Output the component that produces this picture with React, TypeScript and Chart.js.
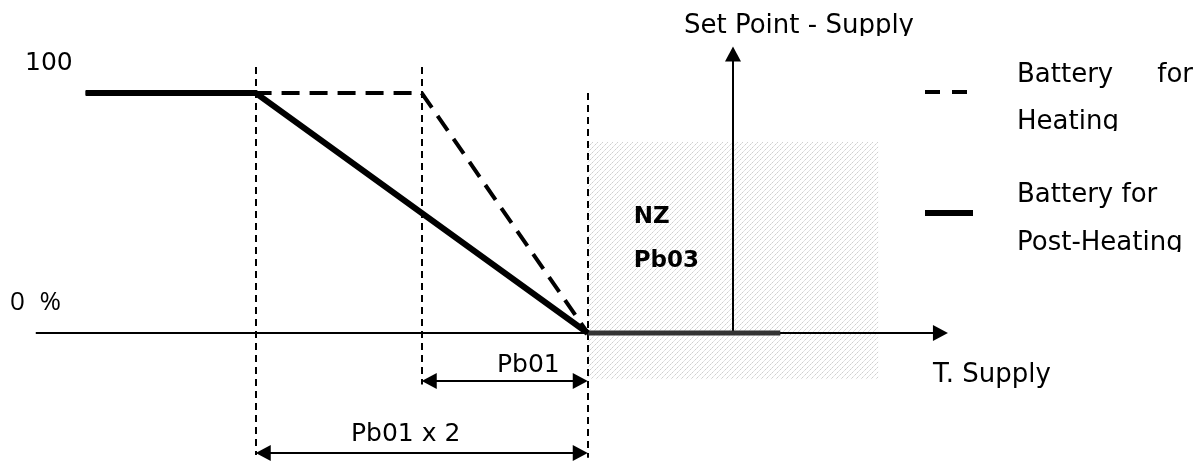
import React, { useEffect, useRef } from 'react';
import { Chart, registerables } from 'chart.js';

Chart.register(...registerables);

const W = 1204;
const H = 462;

// x: supply temperature relative to the set point (°C), y: output (%)
const heatingX = [-7.8, -3.75, -1.75];
const heatingY = [100, 100, 0];
const postHeatingX = [-7.8, -5.75, -1.75];
const postHeatingY = [100, 100, 0];
const zeroOutputX = [-1.75, 0.57];
const zeroOutputY = [0, 0];
const neutralZoneX = [-1.75, 1.75];
const neutralZoneY = [-19.2, 79.6];
const guideX = [-5.75, -3.75, -1.75];
const guideTopY = [110.8, 110.8, 100];
const guideBottomY = [-50.8, -21.5, -52];
const dimLabels = ['Pb01 x 2', 'Pb01'];
const dimFromX = [-5.75, -3.75];
const dimToX = [-1.75, -1.75];
const dimY = [-50, -20];
const yTickValues = [100, 0];
const yTickLabels = ['100', '0 %'];
const xAxisRange = [-8.4, 2.59];
const setPointX = 0;
const setPointTopY = 119.4;
const xRange = [-8.831, 5.675];
const yRange = [-53.75, 138.75];
const legendTitles = ['Battery for Heating', 'Battery for Post-Heating'];

const FONT = '"DejaVu Sans", Verdana, sans-serif';

function makeHatch(): CanvasPattern | string {
  const c = document.createElement('canvas');
  c.width = 5;
  c.height = 5;
  const g = c.getContext('2d');
  if (!g) return '#eee';
  g.fillStyle = '#fff';
  g.fillRect(0, 0, 5, 5);
  g.fillStyle = '#cfcfcf';
  // diagonal dotted hatch
  g.fillRect(0, 4, 1, 1);
  g.fillRect(2, 2, 1, 1);
  g.fillStyle = '#e2e2e2';
  g.fillRect(1, 3, 1, 1);
  g.fillRect(3, 1, 1, 1);
  g.fillRect(4, 0, 1, 1);
  const p = g.createPattern(c, 'repeat');
  return p || '#eee';
}

function arrowHead(ctx: CanvasRenderingContext2D, tx: number, ty: number, dx: number, dy: number, len = 15, half = 8) {
  const px = -dy, py = dx;
  ctx.beginPath();
  ctx.moveTo(tx, ty);
  ctx.lineTo(tx - dx * len + px * half, ty - dy * len + py * half);
  ctx.lineTo(tx - dx * len - px * half, ty - dy * len - py * half);
  ctx.closePath();
  ctx.fill();
}

function clippedText(ctx: CanvasRenderingContext2D, text: string, x: number, y: number, clipBottom: number) {
  ctx.save();
  ctx.beginPath();
  ctx.rect(0, 0, W, clipBottom);
  ctx.clip();
  ctx.fillText(text, x, y);
  ctx.restore();
}

export default function App() {
  const ref = useRef<HTMLCanvasElement | null>(null);

  useEffect(() => {
    const canvas = ref.current;
    if (!canvas) return;
    const hatch = makeHatch();

    const diagram = {
      id: 'diagram',
      beforeDatasetsDraw(chart: any) {
        const { ctx } = chart;
        const x = chart.scales.x;
        const y = chart.scales.y;
        ctx.save();
        // neutral zone
        const l = x.getPixelForValue(neutralZoneX[0]);
        const r = x.getPixelForValue(neutralZoneX[1]);
        const t = y.getPixelForValue(neutralZoneY[1]);
        const b = y.getPixelForValue(neutralZoneY[0]);
        ctx.fillStyle = hatch;
        ctx.fillRect(l, t, r - l, b - t);

        // guides
        ctx.strokeStyle = '#000';
        ctx.lineWidth = 2;
        ctx.setLineDash([7, 5]);
        guideX.forEach((gx, i) => {
          const px = Math.round(x.getPixelForValue(gx));
          ctx.beginPath();
          ctx.moveTo(px, y.getPixelForValue(guideTopY[i]));
          ctx.lineTo(px, y.getPixelForValue(guideBottomY[i]));
          ctx.stroke();
        });
        ctx.setLineDash([]);

        // x axis
        ctx.fillStyle = '#000';
        ctx.lineWidth = 2;
        const y0 = Math.round(y.getPixelForValue(0));
        const ax0 = x.getPixelForValue(xAxisRange[0]);
        const ax1 = x.getPixelForValue(xAxisRange[1]);
        ctx.beginPath();
        ctx.moveTo(ax0, y0);
        ctx.lineTo(ax1 - 10, y0);
        ctx.stroke();
        arrowHead(ctx, ax1, y0, 1, 0);

        // set point arrow
        const sx = Math.round(x.getPixelForValue(setPointX));
        const st = y.getPixelForValue(setPointTopY);
        ctx.beginPath();
        ctx.moveTo(sx, y0);
        ctx.lineTo(sx, st + 10);
        ctx.stroke();
        arrowHead(ctx, sx, st, 0, -1);

        // dimension arrows
        dimLabels.forEach((_, i) => {
          const a = x.getPixelForValue(dimFromX[i]);
          const e = x.getPixelForValue(dimToX[i]);
          const dy = Math.round(y.getPixelForValue(dimY[i]));
          ctx.beginPath();
          ctx.moveTo(a + 10, dy);
          ctx.lineTo(e - 10, dy);
          ctx.stroke();
          arrowHead(ctx, a, dy, -1, 0);
          arrowHead(ctx, e, dy, 1, 0);
        });
        ctx.restore();
      },
      afterDatasetsDraw(chart: any) {
        const { ctx } = chart;
        const x = chart.scales.x;
        const y = chart.scales.y;
        ctx.save();
        ctx.fillStyle = '#000';
        ctx.textBaseline = 'alphabetic';
        ctx.textAlign = 'left';

        // y labels
        ctx.font = `25px ${FONT}`;
        ctx.fillText(yTickLabels[0], 25, y.getPixelForValue(yTickValues[0]) - 23);
        ctx.font = '26px "Open Sans", Lato, sans-serif';
        (ctx as any).letterSpacing = '4px';
        ctx.fillText(yTickLabels[1], 10, y.getPixelForValue(yTickValues[1]) - 23);
        (ctx as any).letterSpacing = '0px';

        // axis titles
        ctx.font = `26px ${FONT}`;
        const sx = x.getPixelForValue(setPointX);
        clippedText(ctx, 'Set Point - Supply', sx - 49, 33, 36);
        ctx.fillText('T. Supply', 933, y.getPixelForValue(0) + 49);

        // dimension labels
        ctx.font = `25px ${FONT}`;
        ctx.fillText(dimLabels[1], 497, y.getPixelForValue(dimY[1]) - 9);
        ctx.fillText(dimLabels[0], 351, y.getPixelForValue(dimY[0]) - 12);

        // neutral zone labels
        ctx.font = `bold 23px ${FONT}`;
        const nzl = x.getPixelForValue(neutralZoneX[0]) + 46;
        ctx.fillText('NZ', nzl, 223);
        ctx.fillText('Pb03', nzl, 267);

        // legend
        const ds = chart.data.datasets;
        const items = [
          { d: ds[1], sy: 92, ty: 82 },
          { d: ds[0], sy: 213, ty: 202 },
        ];
        items.forEach((it, i) => {
          ctx.save();
          ctx.strokeStyle = it.d.borderColor;
          ctx.lineWidth = it.d.borderWidth;
          ctx.setLineDash(i === 0 ? [15, 12] : []);
          ctx.beginPath();
          ctx.moveTo(925, it.sy);
          ctx.lineTo(i === 0 ? 969 : 973, it.sy);
          ctx.stroke();
          ctx.restore();
        });
        ctx.font = `26px ${FONT}`;
        const t0 = legendTitles[0].split(' ');
        ctx.fillText(t0[0], 1017, 82);
        ctx.textAlign = 'right';
        ctx.fillText(t0[1], 1193, 82);
        ctx.textAlign = 'left';
        clippedText(ctx, t0[2], 1017, 129, 131);
        const t1 = legendTitles[1].split(' ');
        ctx.fillText(`${t1[0]} ${t1[1]}`, 1017, 202);
        clippedText(ctx, t1[2], 1017, 250, 252);
        ctx.restore();
      },
    };

    const pts = (xs: number[], ys: number[]) => xs.map((v, i) => ({ x: v, y: ys[i] }));

    const chart = new Chart(canvas, {
      type: 'scatter',
      data: {
        datasets: [
          {
            label: legendTitles[1],
            data: pts(postHeatingX, postHeatingY),
            showLine: true,
            borderColor: '#000',
            borderWidth: 6,
            pointRadius: 0,
            borderJoinStyle: 'miter',
            borderCapStyle: 'butt',
          },
          {
            label: legendTitles[0],
            data: pts(heatingX, heatingY),
            showLine: true,
            borderColor: '#000',
            borderWidth: 4,
            borderDash: [18, 10],
            pointRadius: 0,
            borderCapStyle: 'butt',
          },
          {
            label: 'Zero output',
            data: pts(zeroOutputX, zeroOutputY),
            showLine: true,
            borderColor: '#333',
            borderWidth: 5,
            pointRadius: 0,
            borderCapStyle: 'butt',
          },
        ],
      },
      options: {
        animation: false,
        responsive: false,
        devicePixelRatio: 1,
        layout: { padding: 0 },
        plugins: { legend: { display: false }, tooltip: { enabled: false } },
        events: [],
        scales: {
          x: { type: 'linear', display: false, min: xRange[0], max: xRange[1] },
          y: { type: 'linear', display: false, min: yRange[0], max: yRange[1] },
        },
      },
      plugins: [diagram],
    } as any);

    return () => chart.destroy();
  }, []);

  return (
    <div style={{ position: 'absolute', left: 0, top: 0, width: W, height: H, background: '#fff' }}>
      <canvas ref={ref} width={W} height={H} style={{ display: 'block', width: W, height: H }} />
    </div>
  );
}
